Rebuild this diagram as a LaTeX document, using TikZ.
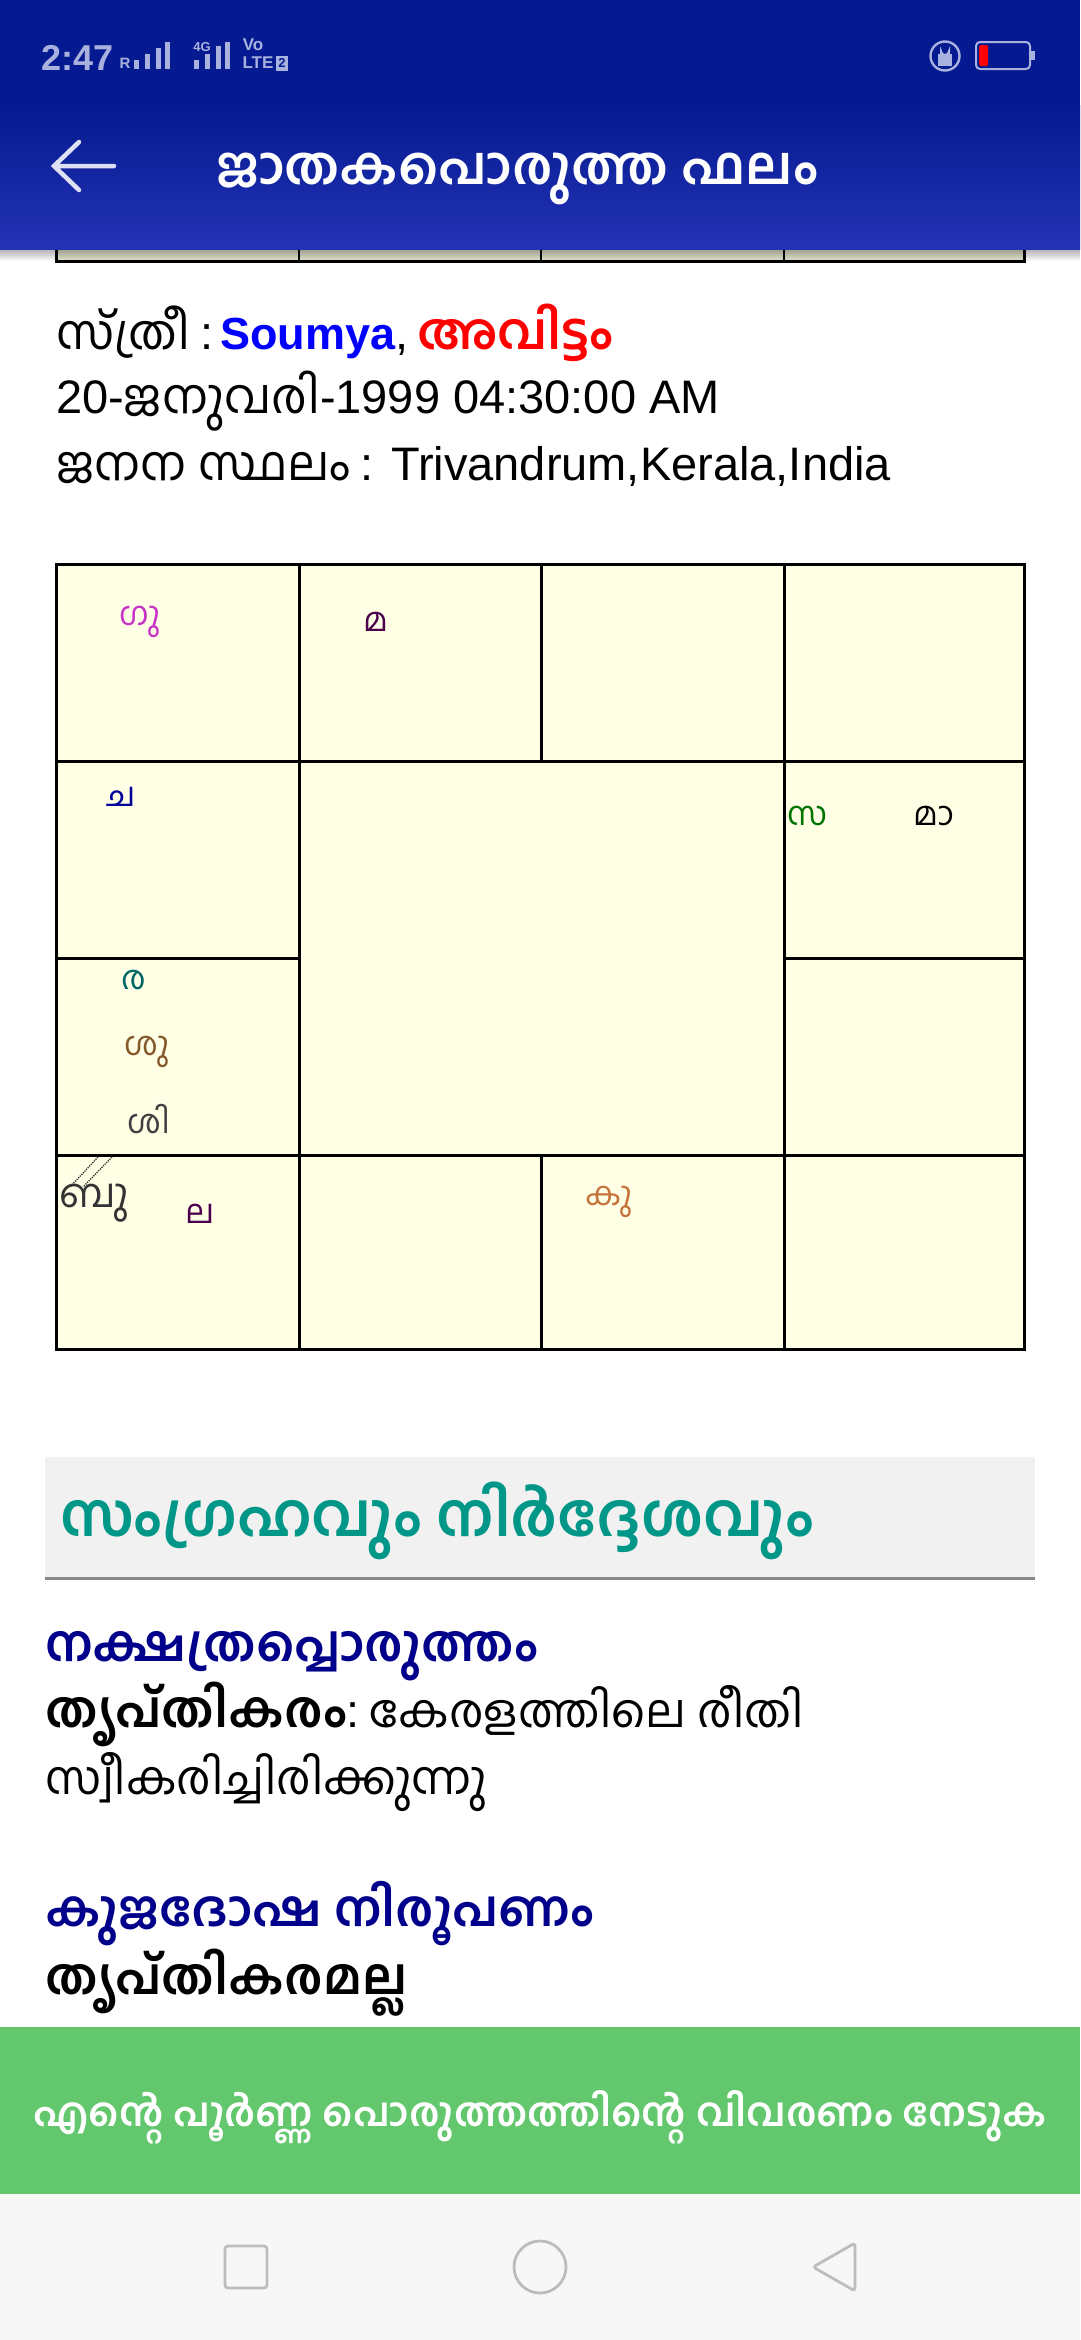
\documentclass[tikz,border=0pt]{standalone}
\usepackage{fontspec}
\setmainfont{Liberation Sans}
\newfontfamily\ml[Script=Malayalam]{Hind Kochi}
\newfontfamily\lat{Liberation Sans}
\definecolor{hdtop}{HTML}{051A90}
\definecolor{hdbot}{HTML}{2333B5}
\definecolor{stat}{HTML}{A9B2DE}
\definecolor{cell}{HTML}{FFFFE6}
\definecolor{teal1}{HTML}{009688}
\definecolor{navy1}{HTML}{00008B}
\definecolor{green1}{HTML}{63C76D}
\definecolor{nav}{HTML}{F7F7F7}
\definecolor{icon}{HTML}{BDBDBD}
\definecolor{secbg}{HTML}{F1F1F1}
\newcommand{\fs}[1]{\fontsize{#1}{#1}\selectfont}
\tikzset{
 txt/.style={anchor=base west,inner sep=0pt,outer sep=0pt},
 body/.style={txt,font=\fs{48}\ml,text=black},
 bodylat/.style={txt,font=\fs{47}\lat,text=black},
 grid/.style={draw=black,line width=3pt,line cap=rect},
 planet/.style={anchor=center,inner sep=0pt,font=\fs{33}\ml},
 navicon/.style={draw=icon,line width=2.8pt,line join=round},
 statbar/.style={fill=stat,draw=none},
 stattxt/.style={anchor=center,inner sep=0pt,text=stat},
}
\begin{document}
\begin{tikzpicture}[x=1pt,y=-1pt]
\useasboundingbox (0,0) rectangle (1080,2340);
\fill[white] (0,0) rectangle (1080,2340);

% remnant of the previous chart
\fill[cell!90!black] (56,240) rectangle (1024,261);
\draw[grid] (56,240) -- (56,261) -- (1024,261) -- (1024,240);
\foreach \x in {299,541,784} \draw[grid,line width=2.4pt] (\x,240) -- (\x,261);
\foreach \i in {0,...,11} \fill[black,opacity=0.028] (0,249) rectangle (1080,250+\i);

% header
\fill[hdtop] (0,0) rectangle (1080,105);
\shade[top color=hdtop,bottom color=hdbot] (0,105) rectangle (1080,249);
\node[stattxt,font=\fs{36}\lat\bfseries,anchor=base west] (time) at (41,70) {2:47};
\node[stattxt,font=\fs{15}\lat\bfseries] (roam) at (125,63) {R};
\foreach \x/\t in {134/60,145/54,156/48,165/42} \fill[statbar] (\x,\t) rectangle (\x+5,69);
\node[stattxt,font=\fs{13}\lat\bfseries] (fourg) at (202,47) {4G};
\foreach \x/\t in {194/60,205/54,216/46,225/42} \fill[statbar] (\x,\t) rectangle (\x+5,69);
\node[stattxt,font=\fs{17}\lat\bfseries] (vo) at (253,45) {Vo};
\node[stattxt,font=\fs{17}\lat\bfseries] (lte) at (258,63) {LTE};
\node[stattxt,font=\fs{13}\lat\bfseries,fill=stat,text=hdtop,minimum width=12pt,minimum height=15pt] (sim) at (282,63) {2};
% lock
\draw[stat,line width=2.4pt] (945,56) circle (14.5);
\fill[stat] (938,54) rectangle (952,66);
\draw[stat,line width=2pt] (941,54) -- (941,51) arc (180:0:4) -- (949,54);
% battery
\draw[stat,line width=2pt,rounded corners=4pt] (976,42) rectangle (1030,69);
\fill[stat] (1031,51) rectangle (1035,60);
\fill[red,rounded corners=1.5pt] (979,45) rectangle (988,66);
% back arrow
\coordinate (arrTail) at (114,166);
\coordinate (arrTip) at (54,166);
\coordinate (arrUp) at (79,142);
\coordinate (arrDn) at (79,190);
\draw[white!85!hdbot,line width=4.5pt,line cap=round,line join=miter] (arrUp) -- (arrTip) -- (arrDn) (arrTip) -- (arrTail);
\node[txt,font=\fs{52.4}\ml\bfseries,text=white] (title) at (216,184) {ജാതകപൊരുത്ത ഫലം};

% person details
\node[body] (l1a) at (56,349) {സ്ത്രീ};
\node[bodylat] (l1b) at (l1a.base east) {\hspace*{10pt}:\hspace*{7pt}\null};
\node[txt,font=\fs{45}\lat\bfseries,text=blue] (l1c) at (l1b.base east) {Soumya};
\node[bodylat] (l1d) at (l1c.base east) {,\hspace*{9pt}\null};
\node[txt,font=\fs{50}\ml\bfseries,text=red] (l1e) at (l1d.base east) {അവിട്ടം};
\node[bodylat] (l2a) at (56,413) {20-};
\node[body] (l2b) at (l2a.base east) {ജനുവരി};
\node[bodylat] (l2c) at (l2b.base east) {-1999 04:30:00 AM};
\node[body] (l3a) at (56,480) {ജനന സ്ഥലം};
\node[bodylat] (l3b) at (l3a.base east) {\hspace*{10pt}: Trivandrum,Kerala,India};

% main chart
\fill[cell] (56,564) rectangle (1024,1349);
\draw[grid] (56,564) rectangle (1024,1349);
\draw[grid] (56,761) -- (1024,761);
\draw[grid] (56,1155) -- (1024,1155);
\draw[grid] (56,958) -- (299,958);
\draw[grid] (784,958) -- (1024,958);
\draw[grid] (299,564) -- (299,1349);
\draw[grid] (784,564) -- (784,1349);
\draw[grid] (541,564) -- (541,761);
\draw[grid] (541,1155) -- (541,1349);
\node[planet,text=violet!55!magenta!80] (gu) at (140,622) {ഗു};
\node[planet,text=violet!60!black] (ma) at (376,622) {മ};
\node[planet,text=blue!60!black] (cha) at (121,797) {ച};
\node[planet,text=green!45!black] (sa) at (807,816) {സ};
\node[planet,text=black] (maa) at (934,816) {മാ};
\node[planet,text=teal!80!black] (ra) at (134,980) {ര};
\node[planet,text=brown!70!black] (su) at (147,1052) {ശു};
\node[planet,text=black!75] (si) at (149,1119) {ശി};
\node[planet,text=black!80,font=\fs{40}\ml] (bu) at (94,1203) {ബു};
\node[planet,text=violet!60!black] (la) at (200,1214) {ല};
\node[planet,text=brown!90!red] (ku) at (609,1202) {കു};
\coordinate (vA1) at (98,1157);
\coordinate (vA2) at (70,1187);
\coordinate (vB1) at (112,1157);
\coordinate (vB2) at (83,1187);
\draw[black!80,line width=1.3pt,densely dotted] (vA1) -- (vA2) (vB1) -- (vB2);

% section title
\fill[secbg] (45,1457) rectangle (1035,1577);
\fill[black!47] (45,1577) rectangle (1035,1580);
\node[txt,font=\fs{60}\ml\bfseries,text=teal1] (sec) at (60,1536) {സംഗ്രഹവും നിർദ്ദേശവും};

% summary
\node[txt,font=\fs{50}\ml\bfseries,text=navy1] (h1) at (45,1661) {നക്ഷത്രപ്പൊരുത്തം};
\node[txt,font=\fs{50}\ml\bfseries,text=black] (b1a) at (45,1727) {തൃപ്തികരം};
\node[bodylat] (b1b) at (b1a.base east) {:\hspace*{10pt}\null};
\node[txt,font=\fs{46.3}\ml,text=black] (b1c) at (b1b.base east) {കേരളത്തിലെ രീതി};
\node[txt,font=\fs{46.3}\ml,text=black] (b2) at (45,1794) {സ്വീകരിച്ചിരിക്കുന്നു};
\node[txt,font=\fs{49.7}\ml\bfseries,text=navy1] (h2) at (45,1926) {കുജദോഷ നിരൂപണം};
\node[txt,font=\fs{50}\ml\bfseries,text=black] (b3) at (45,1994) {തൃപ്തികരമല്ല};

% call to action
\fill[green1] (0,2027) rectangle (1080,2194);
\node[anchor=base,inner sep=0pt,font=\fs{39.6}\ml\bfseries,text=white] (cta) at (540,2126) {എന്റെ പൂർണ്ണ പൊരുത്തത്തിന്റെ വിവരണം നേടുക};

% navigation bar
\fill[nav] (0,2194) rectangle (1080,2340);
\draw[navicon,rounded corners=3pt] (225,2246) rectangle (267,2288);
\draw[navicon] (540,2267) circle (26);
\draw[navicon,rounded corners=3pt] (855,2243) -- (855,2291) -- (813,2267) -- cycle;
\end{tikzpicture}
\end{document}
